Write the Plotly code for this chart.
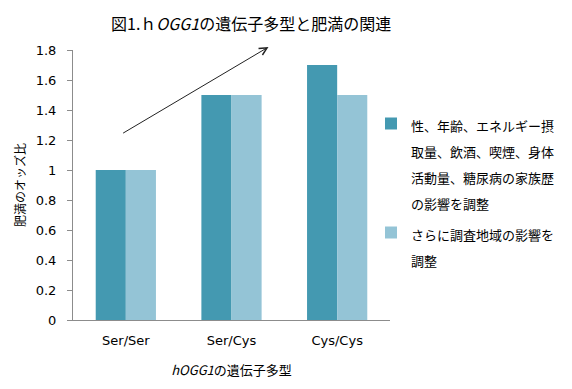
import plotly.graph_objects as go

categories = ["Ser/Ser", "Ser/Cys", "Cys/Cys"]
adjusted_basic = [1.0, 1.5, 1.7]
adjusted_region = [1.0, 1.5, 1.5]
series_names = [
    "性、年齢、エネルギー摂<br>取量、飲酒、喫煙、身体<br>活動量、糖尿病の家族歴<br>の影響を調整",
    "さらに調査地域の影響を<br>調整",
]
y_ticks = [0, 0.2, 0.4, 0.6, 0.8, 1.0, 1.2, 1.4, 1.6, 1.8]
y_tick_labels = ["0", "0.2", "0.4", "0.6", "0.8", "1", "1.2", "1.4", "1.6", "1.8"]

FONT = "DejaVu Sans, Noto Sans CJK JP, sans-serif"
CJK = "Noto Sans CJK JP, DejaVu Sans, sans-serif"


def small(txt):
    return "<br>".join('<span style="font-size:13px">%s</span>' % s for s in txt.split("<br>"))


fig = go.Figure()
fig.add_trace(go.Bar(x=categories, y=adjusted_basic, name=small(series_names[0]),
                     legendgroup="a",
                     marker=dict(color="#4499B1", line=dict(width=0))))
fig.add_trace(go.Bar(x=categories, y=adjusted_region, name=small(series_names[1]),
                     legendgroup="b",
                     marker=dict(color="#94C4D6", line=dict(width=0))))

fig.update_layout(
    width=572, height=389,
    margin=dict(l=65, r=190, t=42, b=77, autoexpand=False),
    paper_bgcolor="white", plot_bgcolor="white",
    barmode="group", bargap=0.43, bargroupgap=0,
    font=dict(family=FONT, size=13, color="#000000"),
    title=dict(text="図1.ｈ<i>OGG1</i>の遺伝子多型と肥満の関連",
               font=dict(family=CJK, size=16, color="#000000"),
               x=0.425, xanchor="center", y=0.972, yanchor="top"),
    showlegend=True,
    legend=dict(x=0.94, xanchor="left", y=0.80, yanchor="top",
                font=dict(family=CJK, size=20, color="#000000"),
                valign="top",
                tracegroupgap=2, itemwidth=30, bgcolor="rgba(0,0,0,0)"),
    xaxis=dict(showline=True, linecolor="#8c8c8c", linewidth=1, ticks="",
               showgrid=False, automargin=False, ticklabelstandoff=8,
               tickfont=dict(size=13, color="#000000"),
               title=dict(text="<i>hOGG1</i>の遺伝子多型",
                          font=dict(family=CJK, size=13, color="#000000"),
                          standoff=19)),
    yaxis=dict(range=[0, 1.8], tickvals=y_ticks, ticktext=y_tick_labels,
               showline=True, linecolor="#8c8c8c", linewidth=1,
               ticks="outside", ticklen=5, tickcolor="#8c8c8c",
               showgrid=False, zeroline=False, automargin=False,
               ticklabelstandoff=8,
               tickfont=dict(size=13, color="#000000"),
               title=dict(text="肥満のオッズ比",
                          font=dict(family=CJK, size=12, color="#000000"),
                          standoff=7)),
)

fig.add_annotation(x=1.35, y=1.82, ax=-0.04, ay=1.24, xref="x", yref="y",
                   axref="x", ayref="y", text="", showarrow=True,
                   arrowhead=5, arrowsize=1.5, arrowwidth=1, arrowcolor="#222222")

fig.write_html("out.html")
